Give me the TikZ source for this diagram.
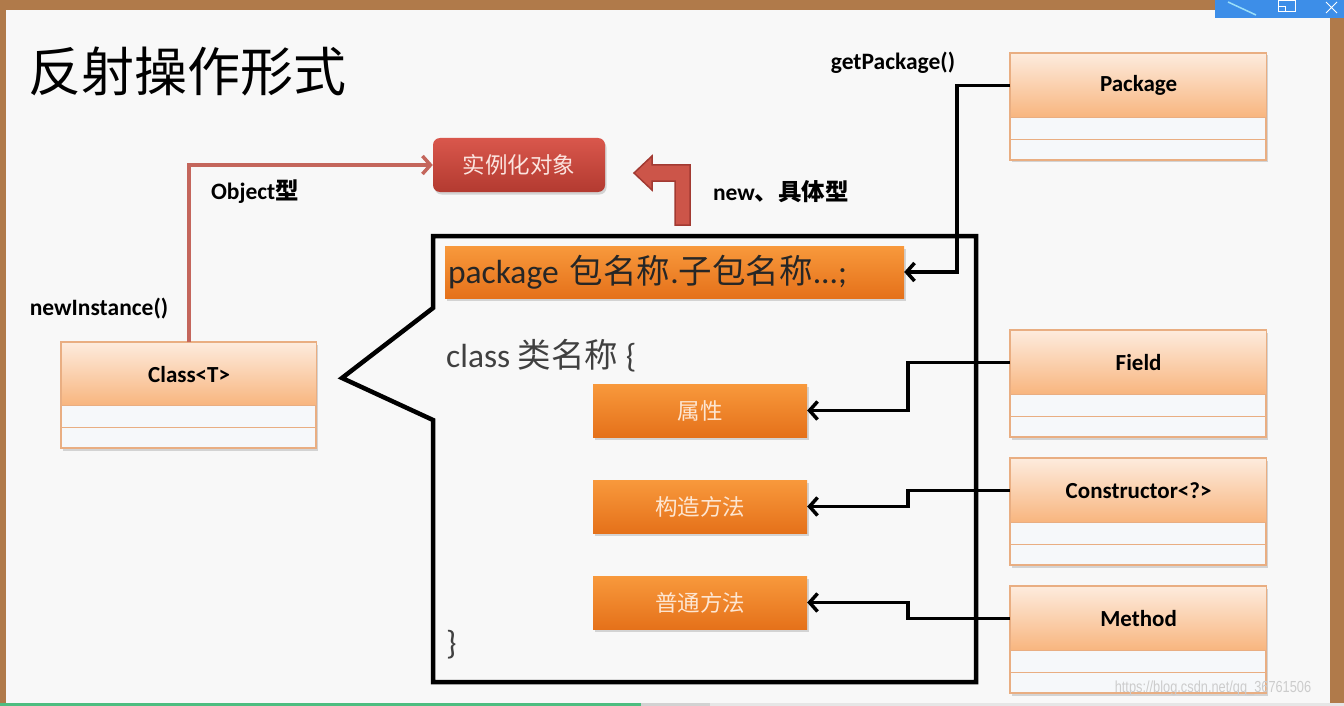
\documentclass[tikz,border=0pt]{standalone}
\usepackage{fontspec}
\setmainfont{Carlito}
\newfontfamily\cjk{Noto Sans CJK SC}
\newfontfamily\wmfont{Liberation Sans}
\usetikzlibrary{arrows.meta,shadows}

\definecolor{framebrown}{HTML}{B07A4A}
\definecolor{slidebg}{HTML}{F8F8F8}
\definecolor{bargreen}{HTML}{4DBD80}
\definecolor{bargray}{HTML}{D2D2D2}
\definecolor{barlight}{HTML}{E6E6E6}
\definecolor{winblue}{HTML}{3D8EE8}
\definecolor{umltop}{HTML}{FDEBDD}
\definecolor{umlbot}{HTML}{F8B57E}
\definecolor{umledge}{HTML}{E9AE82}
\definecolor{rowfill}{HTML}{F6F8FA}
\definecolor{orgtop}{HTML}{F8993C}
\definecolor{orgbot}{HTML}{E5711A}
\definecolor{lighttext}{HTML}{FDE6D2}
\definecolor{redtop}{HTML}{D9574C}
\definecolor{redbot}{HTML}{B33A30}
\definecolor{redtext}{HTML}{FBE4DF}
\definecolor{redline}{HTML}{C4665C}
\definecolor{bentedge}{HTML}{A23A32}
\definecolor{bentfill}{HTML}{CC5549}

\begin{document}
\begin{tikzpicture}[x=1pt,y=-1pt,
    umlhead/.style={draw=umledge,line width=1.2pt,top color=umltop,bottom color=umlbot,
      minimum width=256,minimum height=64,inner sep=0pt,anchor=north west,
      font=\fontsize{23}{27}\selectfont\bfseries},
    umlbody/.style={draw=umledge,line width=1.2pt,fill=rowfill,
      drop shadow={opacity=0.3,shadow xshift=1.5pt,shadow yshift=-2.5pt}},
    umlsep/.style={draw=umledge,line width=1.2pt},
    orangebox/.style={top color=orgtop,bottom color=orgbot,inner sep=0pt,
      drop shadow={opacity=0.3,shadow xshift=1.5pt,shadow yshift=-2.5pt}},
    link/.style={line width=3.5pt,-{Straight Barb[length=8pt,width=18pt]}},
    redlink/.style={line width=3.5pt,draw=redline,-{Straight Barb[length=8pt,width=18pt]}},
    lbl/.style={font=\fontsize{23.5}{27}\selectfont\bfseries,inner sep=0pt}]
\useasboundingbox (0,0) rectangle (1344,706);

% slide frame
\fill[framebrown] (0,0) rectangle (1344,706);
\fill[slidebg] (6,10) rectangle (1330,703);
\fill[barlight] (0,703) rectangle (1344,706);
\fill[bargray] (641,703) rectangle (710,706);
\fill[bargreen] (0,703) rectangle (641,706);
\fill[winblue] (1215,0) rectangle (1344,18);
\draw[cyan!40!white,line width=1.5pt] (1228,2) -- (1256,15);
\draw[white,line width=1pt] (1278,1) rectangle (1295,12) (1278,7) -- (1285,7) -- (1285,12);
\draw[white,line width=1pt] (1326,2) -- (1337,13) (1337,2) -- (1326,13);

\node[anchor=west,inner sep=0pt,font=\cjk\fontsize{53}{60}\selectfont] (title) at (28,71) {反射操作形式};

% class body
\draw[line width=4.5pt,line join=miter] (433,308) -- (433,236) -- (976,236) -- (976,682)
  -- (433,682) -- (433,420) -- (342,378) -- cycle;

\filldraw[umlbody] (61,342) rectangle ++(255,106);
\node[umlhead,minimum width=255,minimum height=63] (cls) at (61,342) {Class<T>};
\draw[umlsep] (cls.south west) ++(0,21.5) -- ++(255,0);

\foreach \nm/\txt/\yy in {pkg/Package/53, fld/Field/330, ctor/Constructor<?>/458, mth/Method/586}{
  \filldraw[umlbody] (1010,\yy) rectangle ++(256,107);
  \node[umlhead] (\nm) at (1010,\yy) {\txt};
  \draw[umlsep] (\nm.south west) ++(0,21.5) -- ++(256,0);
}

\node[rounded corners=7pt,top color=redtop,bottom color=redbot,text=redtext,
  minimum width=172,minimum height=54,inner sep=0pt,font=\cjk\fontsize{22.5}{26}\selectfont,
  drop shadow={opacity=0.3,shadow xshift=1.5pt,shadow yshift=-2.5pt}] (obj) at (519,165) {实例化对象};

\filldraw[fill=bentfill,draw=bentedge,line width=1.5pt,line join=miter]
  (634,173) -- (652,156) -- (652,165) -- (690,165) -- (690,225) -- (675,225)
  -- (675,181) -- (652,181) -- (652,190) -- cycle;

\node[orangebox,minimum width=459,minimum height=52,text width=453pt,align=left,
  font=\fontsize{33.5}{38}\selectfont,text=black!85] (pkgbar) at (674.5,272)
  {package {\cjk 包名称}.{\cjk 子包名称}...;};
\node[anchor=west,inner sep=0pt,font=\fontsize{33.5}{38}\selectfont,text=black!75] (clsline) at (446,356)
  {class {\cjk 类名称} \{};
\node[anchor=west,inner sep=0pt,font=\fontsize{33.5}{38}\selectfont,text=black!75] (clsend) at (446,645) {\}};

\foreach \nm/\txt/\yy in {attr/属性/410.5, ctorm/构造方法/506.5, mthm/普通方法/602.5}
  \node[orangebox,minimum width=214,minimum height=53,text=lighttext,
    font=\cjk\fontsize{22.5}{26}\selectfont] (\nm) at (700,\yy) {\txt};

\node[lbl] (lblobj) at (255,192) {Object{\cjk\bfseries 型}};
\node[lbl] (lblnew) at (99,309) {newInstance()};
\node[lbl] (lblspec) at (781,192) {new{\cjk\bfseries 、具体型}};
\node[lbl] (lblget) at (893,63) {getPackage()};

\draw[redlink] (cls.north) |- (obj.west);
\draw[link] (pkg.west) -- ++(-53,0) |- (pkgbar.east);
\draw[link] (fld.west) -- ++(-102,0) |- (attr.east);
\draw[link] (ctor.west) -- ++(-102,0) |- (ctorm.east);
\draw[link] (mth.west) -- ++(-102,0) |- (mthm.east);

\node[inner sep=0pt,text=gray!40,font=\wmfont\fontsize{16}{18}\selectfont,xscale=0.8] (wmark) at (1213,688)
  {https://blog.csdn.net/qq\_36761506};
\end{tikzpicture}
\end{document}
